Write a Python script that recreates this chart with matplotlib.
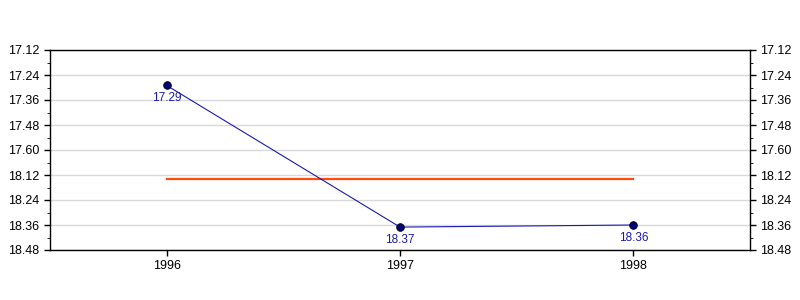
import numpy as np
import matplotlib.pyplot as plt

plt.rcParams['font.family'] = ['Liberation Sans', 'DejaVu Sans']

# data (times as min.sec)
years = [1996, 1997, 1998]
times = [17.29, 18.37, 18.36]
tick_labels = ['17.12', '17.24', '17.36', '17.48', '17.60',
               '18.12', '18.24', '18.36', '18.48']


def to_sec(v):
    # 17.29 -> 17 min 29 s
    m = int(float(v))
    s = round((float(v) - m) * 100)
    return m * 60 + s


secs = np.array([to_sec(t) for t in times])
tick_pos = [to_sec(t) for t in tick_labels]
mean_sec = secs.mean()

fig = plt.figure(figsize=(8, 3), dpi=100)
ax = fig.add_axes([0.0625, 1/6, 0.875, 2/3])

for p in tick_pos:
    ax.axhline(p, color='#d9d9d9', lw=1, zorder=0)

ax.plot([years[0], years[-1]], [mean_sec, mean_sec], color='#ff4c0c', lw=1.6, zorder=2)
ax.plot(years, secs, color='#1a1ab0', lw=0.8, marker='o', ms=5.5,
        mfc='#00007a', mec='black', mew=0.6, zorder=3)

for x, y, t in zip(years, secs, times):
    ax.annotate('%.2f' % t, (x, y), xytext=(0, -5), textcoords='offset points',
                ha='center', va='top', fontsize=8.5, color='#1a1ab0')

ax.set_xlim(1995.5, 1998.5)
ax.set_ylim(tick_pos[-1], tick_pos[0])
ax.set_xticks(years)
ax.set_xticklabels([str(y) for y in years])
ax.set_yticks(tick_pos)
ax.set_yticklabels(tick_labels)
minor = [(a + b) / 2 for a, b in zip(tick_pos[:-1], tick_pos[1:])]
ax.set_yticks(minor, minor=True)

ax.tick_params(axis='both', labelsize=9, length=4, width=1, colors='black')
ax.tick_params(axis='y', which='both', left=True, right=True, labelleft=True, labelright=True)
ax.tick_params(axis='y', which='minor', length=2.5)

for s in ax.spines.values():
    s.set_color('black')
    s.set_linewidth(1)

fig.savefig('out.png', dpi=100)
